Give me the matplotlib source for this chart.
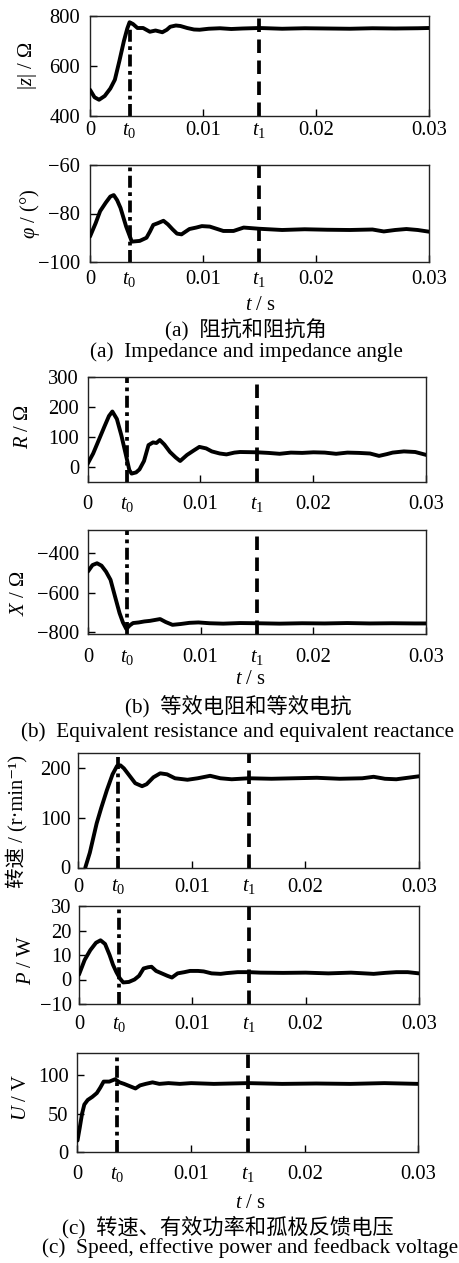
import matplotlib
matplotlib.use("Agg")
import matplotlib.pyplot as plt

plt.rcParams['font.family'] = ['Liberation Serif', 'Noto Sans CJK SC', 'DejaVu Sans']
plt.rcParams['mathtext.fontset'] = 'custom'
plt.rcParams['mathtext.rm'] = 'Liberation Serif'
plt.rcParams['mathtext.it'] = 'Liberation Serif:italic'
plt.rcParams['mathtext.bf'] = 'Liberation Serif:bold'
plt.rcParams['axes.unicode_minus'] = True

# ---------------- data ----------------
t0 = 0.0035
t1 = 0.015
xtick_vals = [0, t0, 0.01, t1, 0.02, 0.03]
xtick_labels = ['0', '$t_0$', '0.01', '$t_1$', '0.02', '0.03']

z_t = [0, 0.0004, 0.0008, 0.0013, 0.0018, 0.0022, 0.0026, 0.003, 0.0033, 0.0035,
       0.0038, 0.0042, 0.0047, 0.0053, 0.0058, 0.0064, 0.0068, 0.0071, 0.0076, 0.008,
       0.0086, 0.0092, 0.0097, 0.0105, 0.0115, 0.0125, 0.0135, 0.015, 0.017, 0.019,
       0.021, 0.023, 0.025, 0.027, 0.029, 0.03]
z_v = [505, 475, 465, 480, 510, 545, 620, 700, 750, 775,
       768, 752, 752, 737, 742, 735, 745, 757, 762, 760,
       752, 746, 745, 749, 751, 748, 750, 752, 749, 751,
       750, 749, 751, 750, 751, 752]

phi_t = [0, 0.0005, 0.0009, 0.0014, 0.0018, 0.0021, 0.0024, 0.0027, 0.0032, 0.0037,
         0.0044, 0.0050, 0.0053, 0.0056, 0.0060, 0.0065, 0.0069, 0.0073, 0.0077, 0.0081,
         0.0088, 0.0094, 0.0099, 0.0106, 0.0112, 0.0118, 0.0127, 0.0136, 0.015, 0.017,
         0.019, 0.021, 0.023, 0.025, 0.026, 0.027, 0.028, 0.029, 0.03]
phi_v = [-89.5, -84, -79, -75.5, -73, -72.4, -74.5, -77.7, -85.4, -91.6,
         -91.3, -90, -87.5, -84.7, -84, -83, -84.5, -86.5, -88.3, -88.6,
         -86.4, -85.8, -85.2, -85.4, -86.3, -87.2, -87.2, -85.8, -86.3, -86.8,
         -86.5, -86.7, -86.8, -86.6, -87.4, -86.8, -86.4, -86.8, -87.5]

R_t = [0, 0.0005, 0.001, 0.0015, 0.0019, 0.0022, 0.0026, 0.003, 0.0034, 0.0037,
       0.0039, 0.0043, 0.0046, 0.005, 0.0054, 0.0058, 0.0061, 0.0064, 0.0068, 0.0073,
       0.0078, 0.0082, 0.0088, 0.0094, 0.0099, 0.0105, 0.011, 0.0117, 0.0123, 0.013,
       0.0135, 0.015, 0.016, 0.017, 0.018, 0.019, 0.02, 0.021, 0.022, 0.023,
       0.024, 0.025, 0.0258, 0.0265, 0.027, 0.028, 0.029, 0.03]
R_v = [10, 45, 90, 135, 170, 185, 160, 105, 40, -10,
       -22, -18, -8, 20, 73, 82, 80, 90, 75, 50,
       32, 20, 40, 55, 67, 62, 52, 45, 42, 48,
       50, 49, 47, 44, 48, 47, 49, 48, 44, 48,
       47, 45, 37, 43, 48, 52, 50, 40]

X_t = [0, 0.0004, 0.0008, 0.0012, 0.0016, 0.002, 0.0024, 0.0028, 0.0031, 0.0034,
       0.0037, 0.004, 0.0045, 0.005, 0.0055, 0.0064, 0.0069, 0.0075, 0.0082, 0.009,
       0.0098, 0.0108, 0.012, 0.0135, 0.015, 0.017, 0.019, 0.021, 0.023, 0.025,
       0.027, 0.029, 0.03]
X_v = [-494, -462, -453, -465, -495, -536, -620, -703, -750, -783,
       -765, -753, -750, -745, -742, -733, -748, -762, -758, -752,
       -750, -754, -756, -753, -754, -756, -754, -755, -753, -755,
       -754, -755, -755]

n_t = [0.0006, 0.001, 0.0016, 0.002, 0.0025, 0.003, 0.0034, 0.0037, 0.004, 0.0045,
       0.005, 0.0056, 0.006, 0.0066, 0.0072, 0.0078, 0.0085, 0.0096, 0.0105, 0.0116,
       0.0125, 0.0135, 0.015, 0.017, 0.019, 0.021, 0.023, 0.025, 0.026, 0.027,
       0.028, 0.029, 0.03]
n_v = [0, 30, 89, 120, 156, 188, 205, 206, 200, 185,
       170, 164, 168, 182, 190, 188, 180, 177, 180, 185,
       180, 178, 180, 179, 180, 181, 179, 180, 183, 179,
       178, 181, 184]

P_t = [0, 0.0005, 0.001, 0.0015, 0.0019, 0.0023, 0.0027, 0.003, 0.0033, 0.0036,
       0.0039, 0.0044, 0.0049, 0.0053, 0.0057, 0.0061, 0.0064, 0.0068, 0.0073, 0.0078,
       0.0082, 0.0087, 0.0093, 0.0098, 0.0105, 0.011, 0.0117, 0.0125, 0.013, 0.014,
       0.015, 0.016, 0.018, 0.02, 0.022, 0.024, 0.026, 0.027, 0.028, 0.029, 0.03]
P_v = [2, 8, 12, 15, 16, 14.5, 10, 6, 3, 0.5,
       -1.2, -1, 0, 1.5, 4.5, 5, 5.2, 3.5, 2.5, 1.5,
       0.8, 2.5, 3, 3.5, 3.5, 3.3, 2.5, 2.3, 2.6, 3,
       3, 2.8, 2.7, 2.8, 2.5, 2.8, 2.3, 2.7, 3, 3, 2.5]

U_t = [0, 0.0002, 0.0004, 0.0006, 0.0009, 0.0013, 0.0017, 0.002, 0.0023, 0.0028,
       0.0033, 0.0037, 0.0041, 0.0046, 0.0051, 0.0055, 0.006, 0.0066, 0.0072, 0.008,
       0.009, 0.01, 0.012, 0.015, 0.018, 0.021, 0.024, 0.027, 0.03]
U_v = [15, 32, 50, 62, 68, 72, 77, 84, 92, 92,
       95, 91, 89, 86, 83, 87, 89, 91, 89, 90,
       89, 90, 89, 90, 89, 89.5, 89, 90, 89]

# ---------------- layout ----------------
W, H = 460, 1263
fig = plt.figure(figsize=(W / 100, H / 100), dpi=100)


def rect(l, r, t, b):
    return [l / W, 1 - b / H, (r - l) / W, (b - t) / H]


FS = 14.8
LW = 2.8


def panel(box, tx, ty, ylim, yticks, xpad, ypad):
    ax = fig.add_axes(rect(*box))
    ax.plot(tx, ty, color='black', lw=LW, solid_joinstyle='round',
            solid_capstyle='round', zorder=3)
    ax.axvline(t0, color='black', lw=2.7, linestyle=(0, (3.2, 1.2, 1.0, 1.2)), zorder=2)
    ax.axvline(t1, color='black', lw=2.7, linestyle=(0, (3.6, 2.0)), zorder=2)
    ax.set_xlim(0, 0.03)
    ax.set_ylim(*ylim)
    ax.set_xticks(xtick_vals)
    ax.set_xticklabels(xtick_labels)
    ax.set_yticks(yticks)
    ax.tick_params(axis='x', direction='in', length=5, width=1, labelsize=FS, pad=xpad)
    ax.tick_params(axis='y', direction='in', length=5, width=1, labelsize=FS, pad=ypad)
    for s in ax.spines.values():
        s.set_linewidth(1.0)
        s.set_color('#222222')
    return ax


panel((90, 429, 16, 116), z_t, z_v, (400, 800), [400, 600, 800], 3.4, 7)
panel((90, 429, 165, 262), phi_t, phi_v, (-100, -60), [-100, -80, -60], 5.8, 7)
panel((87.5, 426.5, 377, 482), R_t, R_v, (-50, 300), [0, 100, 200, 300], 9.4, 6)
panel((88, 426, 530, 634), X_t, X_v, (-808, -286), [-800, -600, -400], 10, 6)
panel((78.5, 419, 752.5, 867.5), n_t, n_v, (0, 232), [0, 100, 200], 7.2, 5.5)
panel((79, 419, 906, 1004), P_t, P_v, (-10, 30), [-10, 0, 10, 20, 30], 8, 5.3)
panel((77.5, 418.5, 1052.5, 1152), U_t, U_v, (0, 130), [0, 50, 100], 9.4, 6.5)


def ftext(x, y, s, size=FS, **kw):
    fig.text(x / W, 1 - y / H, s, ha='center', va='center', fontsize=size, **kw)


# y labels
ftext(28, 66, '$|z|$ / Ω', rotation=90)
ftext(30, 214, '$\\varphi$ / (°)', rotation=90)
ftext(24, 427, '$R$ / Ω', rotation=90)
ftext(20, 593, '$X$ / Ω', rotation=90)
ftext(17, 822, '转速 / (r·min⁻¹)', rotation=90,
      family=['Liberation Serif', 'Noto Sans CJK SC', 'DejaVu Sans'])
ftext(27, 960, '$P$ / W', rotation=90)
ftext(22, 1097, '$U$ / V', rotation=90)

# x labels and captions
CS = 15.3
ftext(260, 305, '$t$ / s')
ftext(246, 330, '(a)  阻抗和阻抗角', size=CS)
ftext(246, 352, '(a)  Impedance and impedance angle', size=CS)
ftext(250, 680, '$t$ / s')
ftext(238, 707, '(b)  等效电阻和等效电抗', size=CS)
ftext(238, 732, '(b)  Equivalent resistance and equivalent reactance', size=CS)
ftext(250, 1203, '$t$ / s')
ftext(228, 1227, '(c)  转速、有效功率和孤极反馈电压', size=CS)
ftext(250, 1248, '(c)  Speed, effective power and feedback voltage', size=CS)

fig.savefig('out.png', dpi=100)
